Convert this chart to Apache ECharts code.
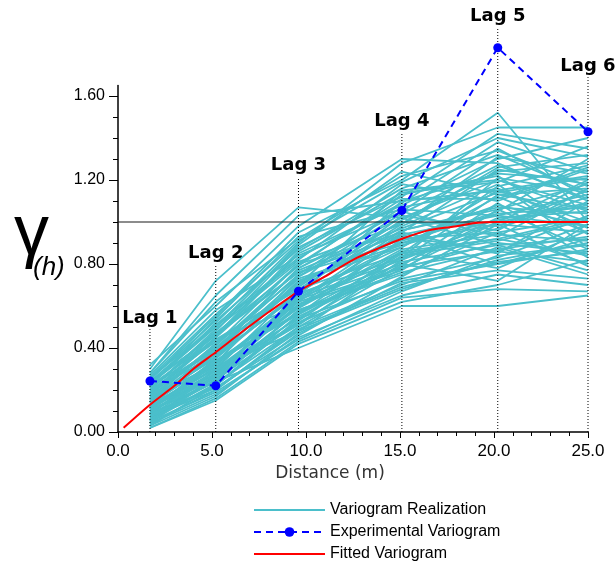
<!DOCTYPE html>
<html>
<head>
<meta charset="utf-8">
<script src="https://cdn.jsdelivr.net/npm/echarts@6/dist/echarts.min.js"></script>
<style>html,body{margin:0;padding:0;background:#fff;}#chart{width:615px;height:563px;}</style>
</head>
<body>
<div id="chart"></div>
<script>
// ---- data ----
const lagX = [1.7, 5.2, 9.6, 15.1, 20.2, 25.0];
const lagNames = ['Lag 1', 'Lag 2', 'Lag 3', 'Lag 4', 'Lag 5', 'Lag 6'];
const lagLineTop = [0.50, 0.80, 1.21, 1.42, 1.92, 1.69];
const lagLabelY = [0.54, 0.85, 1.27, 1.48, 1.98, 1.74];
const experimental = [0.243, 0.22, 0.67, 1.055, 1.83, 1.43];
const fittedX = [0.3, 1.7, 3, 4, 5.2, 6.5, 8, 9.6, 11, 12.5, 14, 15.1, 16.5, 18, 19, 20.2, 25];
const fittedY = [0.02, 0.13, 0.22, 0.30, 0.38, 0.47, 0.57, 0.67, 0.74, 0.82, 0.88, 0.92, 0.96, 0.98, 0.995, 1.0, 1.0];
const sill = 1.0;
const xTicks = [0, 5, 10, 15, 20, 25];
const yTicks = [0, 0.4, 0.8, 1.2, 1.6];
const yMinorTicks = [0.1, 0.2, 0.3, 0.5, 0.6, 0.7, 0.9, 1.0, 1.1, 1.3, 1.4, 1.5];
const realizations = [
  [0.30, 0.72, 1.07, 1.02, 1.20, 1.05],
  [0.28, 0.65, 1.03, 1.10, 1.15, 1.22],
  [0.32, 0.60, 0.98, 1.30, 1.28, 1.10],
  [0.25, 0.55, 0.95, 1.20, 1.52, 1.00],
  [0.22, 0.52, 0.90, 1.28, 1.45, 1.45],
  [0.20, 0.48, 0.88, 1.12, 1.42, 1.35],
  [0.18, 0.45, 0.85, 1.08, 1.30, 1.40],
  [0.26, 0.50, 0.82, 1.18, 1.10, 1.25],
  [0.15, 0.42, 0.80, 0.95, 1.25, 1.18],
  [0.12, 0.38, 0.78, 1.05, 1.35, 1.12],
  [0.24, 0.46, 0.76, 0.90, 1.05, 1.30],
  [0.10, 0.35, 0.74, 1.00, 0.98, 1.15],
  [0.08, 0.33, 0.72, 0.88, 1.12, 0.95],
  [0.20, 0.40, 0.70, 1.15, 1.20, 1.08],
  [0.05, 0.30, 0.68, 0.85, 0.92, 1.02],
  [0.14, 0.36, 0.66, 0.98, 1.18, 0.88],
  [0.17, 0.32, 0.64, 0.82, 1.00, 1.20],
  [0.09, 0.28, 0.62, 0.78, 0.90, 0.85],
  [0.22, 0.44, 0.60, 0.95, 0.85, 1.10],
  [0.06, 0.25, 0.58, 0.75, 0.95, 0.80],
  [0.13, 0.34, 0.56, 0.92, 1.08, 0.98],
  [0.03, 0.22, 0.54, 0.72, 0.80, 0.92],
  [0.11, 0.29, 0.52, 0.80, 1.02, 1.05],
  [0.07, 0.20, 0.50, 0.70, 0.88, 0.75],
  [0.16, 0.31, 0.48, 0.68, 0.82, 0.90],
  [0.04, 0.18, 0.45, 0.65, 0.75, 0.70],
  [0.02, 0.15, 0.42, 0.62, 0.70, 0.82],
  [0.10, 0.24, 0.40, 0.60, 0.60, 0.65],
  [0.19, 0.37, 0.65, 0.88, 1.15, 1.00],
  [0.08, 0.27, 0.57, 0.83, 0.97, 1.12],
  [0.27, 0.58, 0.84, 1.05, 0.93, 1.16],
  [0.23, 0.47, 0.79, 1.13, 1.22, 0.94],
  [0.12, 0.26, 0.61, 0.77, 1.06, 0.87],
  [0.15, 0.39, 0.71, 0.93, 0.86, 1.03],
  [0.21, 0.43, 0.69, 1.01, 1.24, 1.28],
  [0.06, 0.23, 0.53, 0.86, 0.78, 0.96],
  [0.09, 0.21, 0.46, 0.74, 0.99, 0.79],
  [0.18, 0.41, 0.77, 0.97, 1.14, 1.21],
  [0.13, 0.30, 0.59, 0.91, 1.04, 1.07],
  [0.25, 0.53, 0.87, 1.16, 1.32, 1.14],
  [0.05, 0.19, 0.44, 0.67, 0.84, 0.89],
  [0.11, 0.33, 0.63, 0.80, 0.72, 0.99],
  [0.16, 0.35, 0.67, 1.03, 0.96, 1.19],
  [0.07, 0.26, 0.55, 0.79, 1.09, 0.83],
  [0.20, 0.49, 0.81, 0.99, 1.26, 1.32],
  [0.03, 0.17, 0.47, 0.71, 0.77, 0.73],
  [0.14, 0.38, 0.73, 0.89, 1.01, 1.09],
  [0.10, 0.28, 0.51, 0.84, 0.91, 1.01],
  [0.24, 0.51, 0.83, 1.09, 1.38, 1.24],
  [0.08, 0.24, 0.58, 0.76, 0.87, 0.93],
  [0.17, 0.40, 0.75, 1.07, 1.16, 0.97],
  [0.12, 0.32, 0.62, 0.94, 1.03, 1.13],
  [0.04, 0.20, 0.49, 0.69, 0.81, 0.86],
  [0.19, 0.45, 0.80, 1.11, 1.11, 1.26],
  [0.09, 0.29, 0.60, 0.87, 0.94, 0.91],
  [0.28, 0.62, 0.92, 1.22, 1.34, 1.17],
  [0.14, 0.37, 0.70, 0.96, 1.07, 1.04],
  [0.06, 0.22, 0.56, 0.81, 0.89, 0.77],
  [0.21, 0.46, 0.86, 1.14, 1.19, 1.36],
  [0.11, 0.31, 0.64, 0.90, 0.99, 0.95],
  [0.16, 0.42, 0.74, 1.04, 1.27, 1.11],
  [0.02, 0.16, 0.43, 0.64, 0.68, 0.67],
  [0.23, 0.50, 0.89, 1.24, 1.13, 1.06],
  [0.13, 0.27, 0.66, 0.83, 1.21, 1.14],
  [0.07, 0.25, 0.52, 0.73, 0.83, 0.99],
  [0.18, 0.44, 0.68, 0.99, 1.31, 1.23],
  [0.10, 0.34, 0.59, 0.86, 0.92, 0.84],
  [0.26, 0.56, 0.91, 1.19, 1.40, 1.31],
  [0.05, 0.23, 0.50, 0.78, 1.00, 1.08],
  [0.15, 0.36, 0.72, 0.92, 0.95, 1.02],
  [0.04, 0.27, 0.63, 0.96, 1.06, 1.18],
  [0.19, 0.39, 0.78, 1.02, 0.89, 0.92],
  [0.12, 0.30, 0.54, 0.85, 1.17, 1.27],
  [0.22, 0.54, 0.93, 1.06, 1.03, 0.98],
  [0.08, 0.21, 0.48, 0.82, 1.13, 1.16],
  [0.17, 0.47, 0.76, 0.94, 0.80, 0.87],
  [0.10, 0.26, 0.65, 1.10, 1.23, 1.20],
  [0.14, 0.33, 0.57, 0.79, 0.86, 0.81]
];

// ---- chart ----
const REAL_COLOR = '#4BBFCB';
const series = [];
realizations.forEach(function (row) {
  series.push({
    name: 'Variogram Realization', type: 'line', symbol: 'none', silent: true,
    lineStyle: { color: REAL_COLOR, width: 1.8 }, itemStyle: { color: REAL_COLOR },
    data: row.map(function (v, i) { return [lagX[i], v]; })
  });
});
series.push({
  name: 'sill', type: 'line', symbol: 'none', silent: true,
  lineStyle: { color: '#1a1a1a', width: 1.2 },
  data: [[xTicks[0], sill], [xTicks[xTicks.length - 1], sill]]
});
lagX.forEach(function (x, i) {
  series.push({
    name: 'lagline' + i, type: 'line', symbol: 'none', silent: true, clip: false,
    lineStyle: { color: '#000', width: 1, type: [1, 2] },
    data: [[x, 0], [x, lagLineTop[i]]]
  });
});
series.push({
  name: 'Fitted Variogram', type: 'line', symbol: 'none', smooth: 0.3,
  lineStyle: { color: '#FF0000', width: 2 }, itemStyle: { color: '#FF0000' },
  data: fittedX.map(function (x, i) { return [x, fittedY[i]]; })
});
series.push({
  name: 'Experimental Variogram', type: 'line', symbol: 'circle', symbolSize: 9, clip: false,
  lineStyle: { color: '#0000FF', width: 2, type: [7, 5] }, itemStyle: { color: '#0000FF' },
  data: experimental.map(function (v, i) { return [lagX[i], v]; })
});
series.push({
  name: 'lagLabels', type: 'scatter', symbolSize: 1, clip: false, silent: true,
  itemStyle: { color: 'rgba(0,0,0,0)' },
  label: {
    show: true, position: 'inside', color: '#000', textBorderWidth: 0, opacity: 1,
    fontFamily: 'DejaVu Sans', fontWeight: 'bold', fontSize: 18,
    formatter: function (p) { return lagNames[p.dataIndex]; }
  },
  data: lagX.map(function (x, i) { return [x, lagLabelY[i]]; })
});

const chart = echarts.init(document.getElementById('chart'), null, { renderer: 'canvas' });
chart.setOption({
  animation: false,
  backgroundColor: '#fff',
  title: [
    { text: 'γ', left: 14, top: 200, padding: 0,
      textStyle: { fontFamily: 'Liberation Sans', fontSize: 70, fontWeight: 'normal', color: '#000' } },
    { text: '(h)', left: 33, top: 255, padding: 0,
      textStyle: { fontFamily: 'Liberation Sans', fontSize: 26, fontStyle: 'italic', fontWeight: 'normal', color: '#000' } }
  ],
  grid: { left: 118, right: 27, top: 85.5, bottom: 131, containLabel: false },
  legend: {
    orient: 'vertical', left: 248, top: 497, height: 65,
    itemWidth: 71, itemHeight: 12, itemGap: 6,
    data: [
      { name: 'Variogram Realization', itemStyle: { opacity: 0 } },
      { name: 'Experimental Variogram' },
      { name: 'Fitted Variogram', itemStyle: { opacity: 0 } }
    ],
    textStyle: { fontFamily: 'Liberation Sans', fontSize: 16, lineHeight: 16, color: '#000' }
  },
  xAxis: {
    type: 'value', min: 0, max: 25, interval: 5,
    name: 'Distance (m)', nameLocation: 'middle', nameGap: 31,
    nameTextStyle: { fontFamily: 'DejaVu Sans', fontSize: 17, color: '#333', padding: [0, 46, 0, 0] },
    axisLine: { show: true, onZero: false, lineStyle: { color: '#000', width: 1.5 } },
    axisTick: { show: true, length: 6, lineStyle: { color: '#000', width: 1 } },
    minorTick: { show: true, splitNumber: 5, length: 4, lineStyle: { color: '#000', width: 1 } },
    splitLine: { show: false },
    axisLabel: {
      margin: 11, fontFamily: 'Liberation Sans', fontSize: 17, color: '#000',
      formatter: function (v) { return v.toFixed(1); }
    }
  },
  yAxis: [{
    type: 'value', min: 0, max: 1.65, position: 'left',
    axisLine: { show: true, onZero: false, lineStyle: { color: '#000', width: 1.5 } },
    axisTick: { show: true, length: 9, customValues: yTicks, lineStyle: { color: '#000', width: 1 } },
    splitLine: { show: false },
    axisLabel: {
      margin: 13, fontFamily: 'Liberation Sans', fontSize: 16, color: '#000',
      customValues: yTicks,
      formatter: function (v) { return v.toFixed(2); }
    }
  }, {
    type: 'value', min: 0, max: 1.65, position: 'left', offset: 0,
    axisLine: { show: false },
    axisTick: { show: true, length: 5, customValues: yMinorTicks, lineStyle: { color: '#000', width: 1 } },
    axisLabel: { show: false },
    splitLine: { show: false }
  }],
  series: series
});
</script>
</body>
</html>
